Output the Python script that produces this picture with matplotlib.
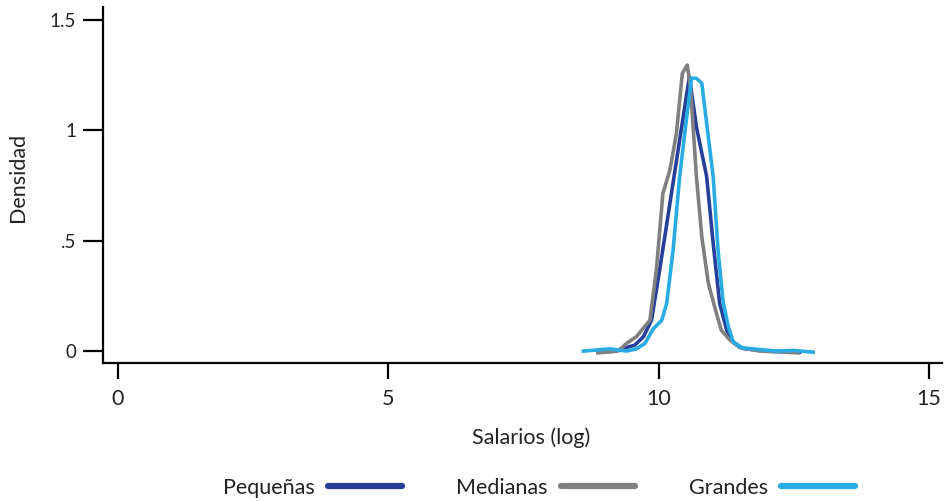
import matplotlib
matplotlib.use("Agg")
import matplotlib.pyplot as plt
from matplotlib.lines import Line2D

plt.rcParams['font.family'] = ['Lato', 'DejaVu Sans']

# Data
pequenas_x = [8.91, 9.22, 9.35, 9.56, 9.72, 9.87, 10.02, 10.21, 10.39, 10.57,
              10.70, 10.89, 11.01, 11.13, 11.26, 11.38, 11.56, 12.00, 12.61]
pequenas_y = [-0.005, 0.0, 0.012, 0.027, 0.065, 0.14, 0.367, 0.669, 0.956, 1.243,
              1.016, 0.79, 0.488, 0.216, 0.095, 0.041, 0.012, 0.0, -0.005]

medianas_x = [8.88, 9.25, 9.41, 9.59, 9.84, 9.96, 10.08, 10.21, 10.33, 10.44,
              10.53, 10.59, 10.70, 10.80, 10.92, 11.07, 11.16, 11.32, 11.50, 11.87, 12.58]
medianas_y = [-0.008, 0.0, 0.035, 0.065, 0.14, 0.367, 0.714, 0.82, 0.986, 1.258,
              1.296, 1.198, 0.79, 0.518, 0.307, 0.171, 0.095, 0.05, 0.016, 0.0, -0.008]

grandes_x = [8.61, 9.10, 9.41, 9.59, 9.75, 9.90, 10.06, 10.15, 10.27, 10.39, 10.52,
             10.61, 10.70, 10.80, 10.89, 11.01, 11.10, 11.19, 11.29, 11.38, 11.53,
             11.87, 12.18, 12.49, 12.86]
grandes_y = [0.0, 0.01, 0.0, 0.01, 0.035, 0.10, 0.14, 0.216, 0.46, 0.79, 1.06,
             1.236, 1.236, 1.213, 1.03, 0.79, 0.457, 0.23, 0.11, 0.042, 0.015,
             0.007, 0.0, 0.003, -0.005]

series_names = ["Pequeñas", "Medianas", "Grandes"]
series_colors = ["#263f9a", "#808083", "#29ace3"]

x_ticks = [0, 5, 10, 15]
x_tick_labels = ["0", "5", "10", "15"]
y_ticks = [0, 0.5, 1, 1.5]
y_tick_labels = ["0", ".5", "1", "1.5"]

W, H = 946, 501
fig = plt.figure(figsize=(W / 100, H / 100), dpi=100)
left, right, top, bottom = 103, 942, 7, 363
ax = fig.add_axes([left / W, 1 - bottom / H, (right - left) / W, (bottom - top) / H])

data = [(pequenas_x, pequenas_y), (medianas_x, medianas_y), (grandes_x, grandes_y)]
for (xs, ys), c in zip(data, series_colors):
    ax.plot(xs, ys, color=c, lw=2.6, solid_joinstyle='round')

ax.set_xlim(-0.27, 15.24)
ax.set_ylim(-0.054, 1.559)

for s in ['top', 'right']:
    ax.spines[s].set_visible(False)
for s in ['left', 'bottom']:
    ax.spines[s].set_linewidth(1.6)
    ax.spines[s].set_color('black')

ax.set_xticks(x_ticks)
ax.set_xticklabels(x_tick_labels)
ax.set_yticks(y_ticks)
ax.set_yticklabels(y_tick_labels)
ax.tick_params(axis='x', length=11.5, width=1.6, pad=7.5, labelsize=15.5, colors='black', labelcolor='#222222')
ax.tick_params(axis='y', length=14.4, width=1.6, pad=5, labelsize=13.5, colors='black', labelcolor='#222222')

ax.set_xlabel("Salarios (log)", fontsize=15.5, color='#222222')
ax.xaxis.set_label_coords(0.510, -0.18)
ax.set_ylabel("Densidad", fontsize=15.5, color='#222222')
ax.yaxis.set_label_coords(-0.089, 0.52)

handles = [Line2D([0], [0], color=c, lw=4.5, solid_capstyle='round') for c in series_colors]
fig.legend(handles, series_names, loc='center', bbox_to_anchor=(0.570, 0.026),
           ncol=3, frameon=False, markerfirst=False, fontsize=15.5,
           handlelength=3.45, handletextpad=0.6, columnspacing=2.5, borderpad=0,
           labelcolor='#222222')

fig.savefig("out.png", dpi=100)
